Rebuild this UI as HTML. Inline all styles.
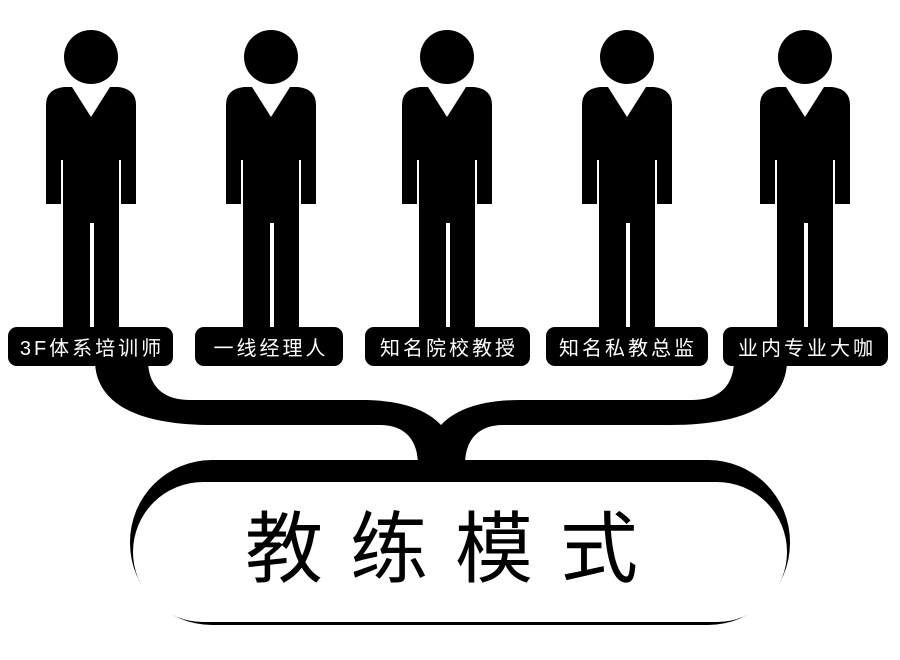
<!DOCTYPE html>
<html><head><meta charset="utf-8"><style>
html,body{margin:0;padding:0;background:#fff;}
svg{display:block}
</style></head><body>
<svg width="900" height="660" viewBox="0 0 900 660" xmlns="http://www.w3.org/2000/svg">
<defs>
<g id="p">
  <circle cx="0" cy="57" r="27" fill="#000"/>
  <path d="M-45,204 L-45,105 Q-45,89 -27,87 L-19,87 L0,117 L19,87 L27,87 Q45,89 45,105 L45,204 Z" fill="#000"/>
  <rect x="-28" y="150" width="56" height="180" fill="#000"/>
  <rect x="-30" y="160" width="2" height="44" fill="#fff"/>
  <rect x="28" y="160" width="2" height="44" fill="#fff"/>
  <rect x="-1" y="223" width="4" height="110" fill="#fff"/>
</g>
</defs>
<use href="#p" x="91"/>
<use href="#p" x="271"/>
<use href="#p" x="447"/>
<use href="#p" x="627"/>
<use href="#p" x="805"/>

<path d="M95,360 C95,405 140,425 213,425 L380,425 C405,425 418,440 418,465 L465,465 C465,440 478,425 503,425 L670,425 C743,425 787,405 787,360 L734,360 C734,385 720,400 692,400 L520,400 C480,400 455,410 441,425 C427,410 402,400 362,400 L190,400 C162,400 148,385 148,360 Z" fill="#000"/>

<g fill="#000">
<rect x="8" y="327" width="165" height="39" rx="9"/>
<rect x="195" y="327" width="148" height="39" rx="9"/>
<rect x="365" y="327" width="165" height="39" rx="9"/>
<rect x="546" y="327" width="162" height="39" rx="9"/>
<rect x="723" y="327" width="165" height="39" rx="9"/>
</g>
<g fill="#fff" font-family="Liberation Sans, Noto Sans CJK SC, sans-serif" font-size="20" text-anchor="middle" letter-spacing="3">
<text x="92" y="355">3F体系培训师</text>
<text x="271" y="355">一线经理人</text>
<text x="449" y="355">知名院校教授</text>
<text x="628" y="355">知名私教总监</text>
<text x="807" y="355">业内专业大咖</text>
</g>

<rect x="130" y="460" width="660" height="165" rx="82" fill="#000"/>
<rect x="133" y="482" width="654" height="140" rx="70" fill="#fff"/>
<text x="455" y="576" text-anchor="middle" font-family="Liberation Sans, Noto Sans CJK SC, sans-serif" font-size="78" letter-spacing="27" fill="#000">教练模式</text>
</svg>
</body></html>
